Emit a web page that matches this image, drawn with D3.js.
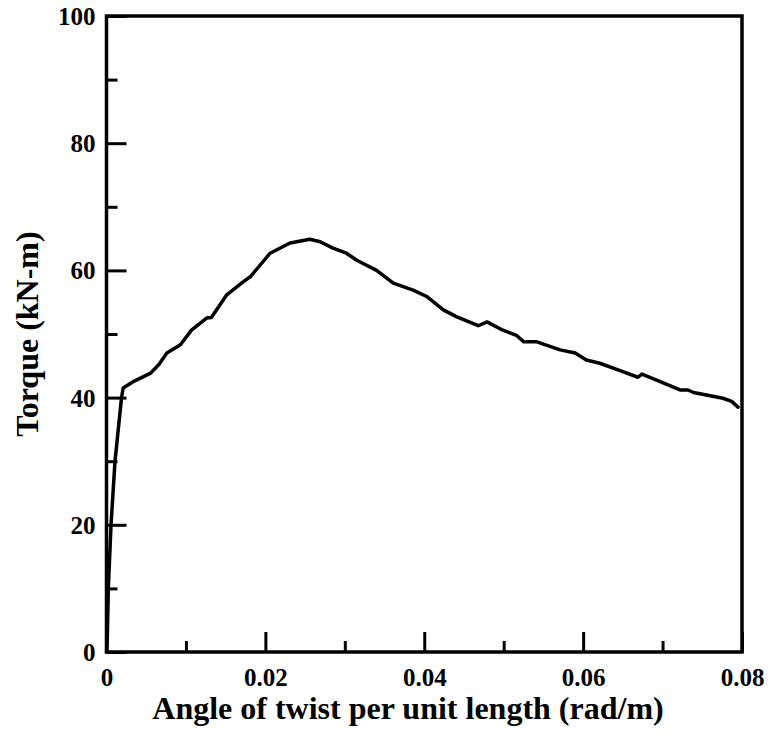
<!DOCTYPE html>
<html>
<head>
<meta charset="utf-8">
<script src="https://cdn.jsdelivr.net/npm/d3@7"></script>
<style>
  html, body { margin: 0; padding: 0; background: #fff; }
  svg { display: block; }
  text { font-family: "Liberation Serif", "Times New Roman", serif; font-weight: bold; fill: #000; }
</style>
</head>
<body>
<div id="chart"></div>
<script>
// ---- data ----
const twist = [0, 0.0001, 0.00023, 0.00057, 0.00107, 0.0019, 0.0021, 0.0035, 0.0055, 0.0066, 0.0076, 0.0093, 0.0107, 0.0126, 0.0132, 0.0151, 0.0172, 0.0181, 0.0206, 0.0231, 0.0256, 0.0269, 0.0285, 0.0302, 0.0315, 0.034, 0.0361, 0.0386, 0.0403, 0.0424, 0.0441, 0.0468, 0.0479, 0.0499, 0.0516, 0.0525, 0.0541, 0.0571, 0.059, 0.0604, 0.0621, 0.065, 0.0669, 0.0674, 0.0697, 0.0722, 0.0732, 0.0739, 0.0776, 0.0787, 0.0795];
const torque = [0, 2, 10, 20, 30, 40.1, 41.5, 42.6, 43.8, 45.2, 47.0, 48.3, 50.6, 52.5, 52.6, 56.1, 58.2, 59.0, 62.7, 64.3, 64.9, 64.5, 63.5, 62.7, 61.6, 60.0, 58.0, 56.9, 55.9, 53.8, 52.7, 51.3, 51.9, 50.6, 49.8, 48.8, 48.8, 47.5, 47.0, 45.9, 45.4, 44.1, 43.2, 43.7, 42.5, 41.2, 41.2, 40.8, 39.9, 39.4, 38.5];
const xMajorTicks = [0, 0.02, 0.04, 0.06, 0.08];
const xTickLabels = ["0", "0.02", "0.04", "0.06", "0.08"];
const xMinorTicks = [0.01, 0.03, 0.05, 0.07];
const yMajorTicks = [0, 20, 40, 60, 80, 100];
const yTickLabels = ["0", "20", "40", "60", "80", "100"];
const yMinorTicks = [10, 30, 50, 70, 90];
const xTitle = "Angle of twist per unit length (rad/m)";
const yTitle = "Torque (kN-m)";

// ---- layout ----
const W = 772, H = 735;
const pL = 106.5, pR = 742, pT = 16, pB = 652;

const svg = d3.select("#chart").append("svg").attr("width", W).attr("height", H);

const x = d3.scaleLinear().domain([0, 0.08]).range([pL, pR]);
const y = d3.scaleLinear().domain([0, 100]).range([pB, pT]);

// frame
svg.append("rect")
  .attr("x", pL).attr("y", pT)
  .attr("width", pR - pL).attr("height", pB - pT)
  .attr("fill", "none").attr("stroke", "#000").attr("stroke-width", 3.5);

// x axis ticks (inward)
const xAxisMajor = d3.axisBottom(x).tickValues(xMajorTicks)
  .tickSizeInner(-20).tickSizeOuter(0)
  .tickFormat((d, i) => xTickLabels[i]);
const gx = svg.append("g").attr("transform", `translate(0,${pB})`).call(xAxisMajor);
gx.select(".domain").remove();
gx.selectAll(".tick line").attr("stroke", "#000").attr("stroke-width", 3);
gx.selectAll(".tick text").attr("font-size", 25).attr("dy", 0).attr("y", 34)
  .attr("font-family", "Liberation Serif").attr("font-weight", "bold");

const xAxisMinor = d3.axisBottom(x).tickValues(xMinorTicks)
  .tickSizeInner(-11).tickSizeOuter(0).tickFormat("");
const gxm = svg.append("g").attr("transform", `translate(0,${pB})`).call(xAxisMinor);
gxm.select(".domain").remove();
gxm.selectAll(".tick line").attr("stroke", "#000").attr("stroke-width", 3);

// y axis ticks (inward)
const yAxisMajor = d3.axisLeft(y).tickValues(yMajorTicks)
  .tickSizeInner(-20).tickSizeOuter(0)
  .tickFormat((d, i) => yTickLabels[i]);
const gy = svg.append("g").attr("transform", `translate(${pL},0)`).call(yAxisMajor);
gy.select(".domain").remove();
gy.selectAll(".tick line").attr("stroke", "#000").attr("stroke-width", 3);
gy.selectAll(".tick text").attr("font-size", 25).attr("x", -11).attr("dy", "0.34em")
  .attr("font-family", "Liberation Serif").attr("font-weight", "bold");

const yAxisMinor = d3.axisLeft(y).tickValues(yMinorTicks)
  .tickSizeInner(-11).tickSizeOuter(0).tickFormat("");
const gym = svg.append("g").attr("transform", `translate(${pL},0)`).call(yAxisMinor);
gym.select(".domain").remove();
gym.selectAll(".tick line").attr("stroke", "#000").attr("stroke-width", 3);

// curve
const data = twist.map((v, i) => ({ v, t: torque[i] }));
const line = d3.line().x(d => x(d.v)).y(d => y(d.t)).curve(d3.curveLinear);
svg.append("path").datum(data)
  .attr("d", line)
  .attr("fill", "none").attr("stroke", "#000")
  .attr("stroke-width", 3.5).attr("stroke-linejoin", "round").attr("stroke-linecap", "round");

// titles
svg.append("text")
  .attr("x", 408).attr("y", 719)
  .attr("text-anchor", "middle").attr("font-size", 32)
  .text(xTitle);

svg.append("text")
  .attr("transform", `translate(38,${(pT + pB) / 2}) rotate(-90)`)
  .attr("text-anchor", "middle").attr("font-size", 32)
  .text(yTitle);
</script>
</body>
</html>
